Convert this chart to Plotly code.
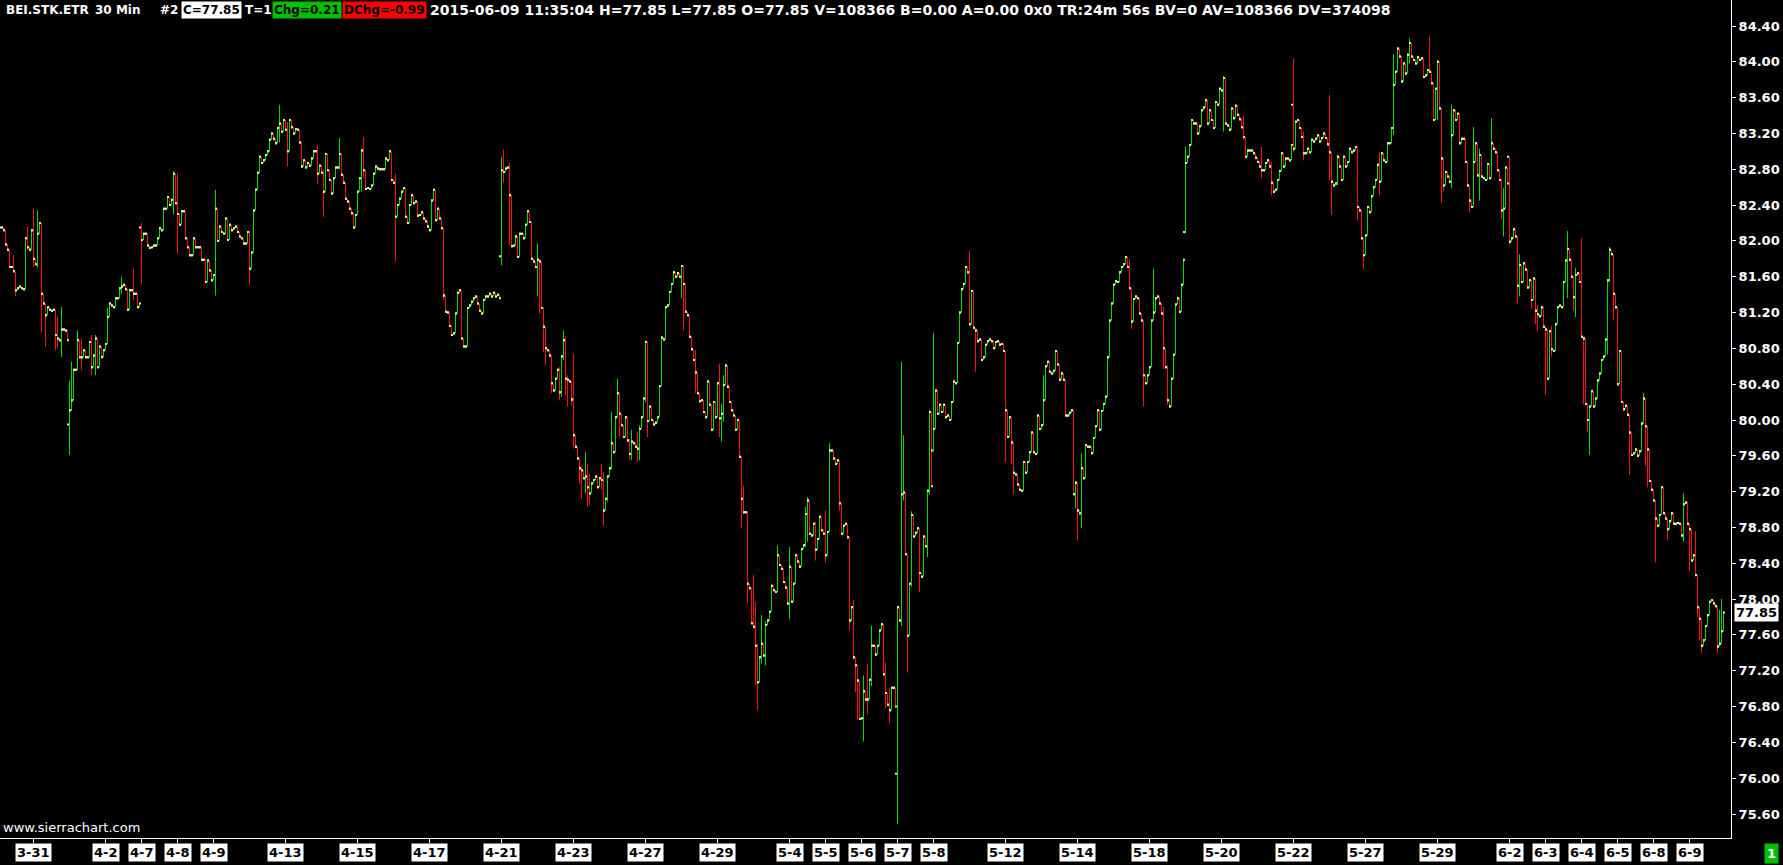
import plotly.graph_objects as go

# ---------------- data (30-min closes, BEI.STK.ETR) ----------------
# week of 3-30 (3-30 partial: 16 visible bars), 3-31, 4-1, 4-2
close_w14 = [82.15, 82.12, 81.96, 81.90, 81.71, 81.71, 81.66, 81.45, 81.47, 81.49, 81.47, 81.46, 82.03, 81.93, 81.90, 82.12,
             81.80, 81.74, 82.08, 82.20, 81.41, 81.30, 81.17, 81.26, 81.23, 81.22, 81.23, 80.95, 80.91, 80.89, 81.01, 81.01, 81.00, 80.89,
             80.11, 80.22, 80.56, 80.56, 80.89, 80.70, 80.70, 80.78, 80.70, 80.70, 80.87, 80.59, 80.72, 80.91, 80.59, 80.82, 80.70, 80.78,
             80.85, 81.15, 81.30, 81.28, 81.26, 81.36, 81.36, 81.47, 81.49, 81.51, 81.46, 81.23, 81.45, 81.45, 81.41, 81.41, 81.26, 81.30]
# 4-7 .. 4-10
close_w15 = [82.01, 82.08, 82.08, 81.95, 81.92, 81.93, 81.95, 81.95, 82.03, 82.14, 82.12, 82.36, 82.36, 82.49, 82.40, 82.46, 82.75, 82.42,
             82.30, 82.18, 82.33, 82.33, 82.03, 81.93, 81.84, 81.84, 82.03, 81.93, 81.93, 81.93, 81.79, 81.79, 81.54, 81.78, 81.67, 81.56,
             81.62, 82.36, 82.00, 82.16, 82.10, 82.08, 82.25, 82.01, 82.18, 82.12, 82.14, 82.16, 82.10, 82.05, 82.03, 81.97, 81.97, 82.10,
             81.69, 81.87, 82.34, 82.57, 82.76, 82.94, 82.87, 82.90, 82.96, 83.00, 83.13, 83.20, 83.14, 83.09, 83.26, 83.31, 83.22, 83.35]
# 4-13 .. 4-17
close_w16 = [83.24, 83.00, 83.35, 83.27, 83.20, 83.25, 83.24, 83.10, 82.83, 82.90, 82.82, 82.87, 82.84, 82.92, 83.00, 83.00, 82.75, 82.84,
             82.76, 82.55, 82.97, 82.79, 82.68, 82.53, 82.70, 82.82, 82.82, 82.97, 82.74, 82.65, 82.47, 82.44, 82.36, 82.31, 82.15, 82.29,
             82.55, 82.70, 83.01, 82.79, 82.58, 82.59, 82.58, 82.62, 82.75, 82.83, 82.81, 82.80, 82.80, 82.80, 82.92, 82.90, 83.00, 82.68,
             82.65, 82.27, 82.40, 82.47, 82.55, 82.59, 82.27, 82.20, 82.40, 82.51, 82.42, 82.44, 82.28, 82.29, 82.32, 82.25, 82.22, 82.16,
             82.12, 82.45, 82.57, 82.23, 82.36, 82.25, 82.14, 81.39, 81.21, 81.20, 81.05, 80.95, 80.97, 81.19, 81.42, 81.45, 80.91, 80.82]
# 4-20 .. 4-24
close_w17 = [80.82, 81.25, 81.28, 81.32, 81.36, 81.38, 81.30, 81.22, 81.19, 81.34, 81.38, 81.38, 81.41, 81.38, 81.42, 81.38, 81.40, 81.36,
             82.79, 82.77, 82.81, 82.82, 82.51, 81.94, 81.95, 82.05, 81.82, 82.08, 82.08, 82.03, 82.18, 82.33, 82.21, 81.80, 81.77, 81.71,
             81.79, 81.77, 81.25, 81.04, 80.80, 80.78, 80.72, 80.41, 80.33, 80.46, 80.56, 80.31, 80.71, 80.89, 80.46, 80.45, 80.43, 80.23,
             79.83, 79.70, 79.57, 79.46, 79.44, 79.35, 79.37, 79.25, 79.18, 79.29, 79.33, 79.37, 79.25, 79.35, 79.33, 78.99, 79.12, 79.37,
             79.46, 79.74, 79.64, 80.03, 80.30, 80.07, 79.94, 79.81, 80.03, 79.77, 79.62, 79.76, 79.74, 79.70, 79.68, 79.90, 80.03, 80.24]
# 4-27 .. 4-30
close_w18 = [80.87, 79.99, 80.15, 80.00, 79.95, 79.97, 80.03, 80.38, 80.92, 80.90, 81.26, 81.28, 81.43, 81.52, 81.65, 81.60, 81.64, 81.60,
             81.72, 81.52, 81.21, 81.17, 80.93, 80.79, 80.67, 80.53, 80.30, 80.21, 80.22, 80.09, 80.03, 80.43, 80.17, 79.89, 80.20, 80.03,
             80.41, 80.02, 80.07, 80.39, 80.61, 80.37, 80.20, 80.11, 80.05, 79.89, 80.00, 79.59, 79.12, 78.97, 78.97, 78.17, 78.12, 77.73,
             77.69, 77.48, 77.07, 77.35, 77.50, 77.37, 77.71, 77.76, 77.86, 78.15, 78.10, 78.08, 78.49, 78.38, 78.34, 78.19, 78.13, 77.95]
# 5-4 .. 5-8
close_w19 = [78.36, 77.97, 78.17, 78.49, 78.42, 78.36, 78.56, 78.60, 78.95, 79.10, 78.73, 78.71, 78.84, 78.55, 78.67, 78.92, 78.77, 78.73,
             78.49, 78.75, 79.66, 79.66, 79.57, 79.51, 79.55, 79.07, 78.73, 78.82, 78.84, 78.69, 77.76, 77.91, 77.35, 77.26, 77.09, 76.66,
             76.67, 76.97, 76.88, 76.88, 77.10, 77.48, 77.48, 77.38, 77.48, 77.65, 77.72, 77.16, 76.95, 76.82, 76.76, 77.01, 77.01, 76.80,
             77.91, 77.76, 79.17, 79.19, 78.50, 77.59, 78.17, 78.94, 78.70, 78.74, 78.79, 78.29, 78.25, 78.70, 78.59, 79.21, 80.09, 79.26,
             79.90, 80.33, 80.07, 80.17, 80.09, 80.17, 80.03, 80.05, 80.00, 80.20, 80.43, 80.41, 80.86, 81.20, 81.46, 81.52, 81.71, 81.65]
# 5-11 .. 5-15
close_w20 = [81.07, 81.44, 81.03, 81.00, 80.88, 80.90, 80.67, 80.70, 80.84, 80.88, 80.90, 80.88, 80.80, 80.87, 80.88, 80.84, 80.85, 80.77,
             80.11, 79.81, 80.03, 79.75, 79.41, 79.39, 79.28, 79.22, 79.21, 79.53, 79.41, 79.53, 79.64, 79.86, 79.64, 79.62, 80.05, 79.90,
             79.94, 80.22, 80.60, 80.65, 80.54, 80.52, 80.55, 80.77, 80.62, 80.45, 80.52, 80.45, 80.05, 80.05, 80.08, 80.11, 79.17, 79.30,
             78.99, 78.96, 79.46, 79.35, 79.72, 79.70, 79.70, 79.63, 79.80, 79.93, 80.11, 79.89, 80.10, 80.18, 80.26, 80.70, 81.11, 81.30,
             81.51, 81.55, 81.54, 81.65, 81.71, 81.74, 81.82, 81.71, 81.47, 81.10, 81.35, 81.38, 81.36, 81.19, 81.11, 80.50, 80.41, 80.50]
# 5-18 .. 5-22
close_w21 = [80.59, 81.11, 81.20, 81.36, 81.38, 81.30, 81.19, 80.80, 80.59, 80.22, 80.15, 80.46, 80.73, 81.29, 81.36, 81.21, 81.51, 81.79,
             82.87, 82.94, 83.07, 83.35, 83.31, 83.31, 83.20, 83.28, 83.46, 83.49, 83.57, 83.31, 83.46, 83.35, 83.26, 83.55, 83.52, 83.70,
             83.68, 83.82, 83.31, 83.29, 83.24, 83.48, 83.37, 83.51, 83.41, 83.36, 83.27, 83.16, 82.94, 83.01, 83.01, 83.01, 82.98, 82.93,
             82.88, 82.83, 82.79, 82.79, 82.87, 82.90, 82.83, 82.65, 82.55, 82.57, 82.68, 82.78, 82.98, 82.83, 82.92, 82.92, 82.90, 83.07,
             83.03, 83.33, 83.35, 83.26, 83.16, 82.98, 82.98, 83.03, 82.99, 83.13, 83.11, 83.14, 83.18, 83.11, 83.15, 83.20, 83.15, 83.08]
# 5-26 .. 5-29
close_w22 = [82.99, 82.66, 82.62, 82.64, 82.94, 82.83, 82.68, 82.94, 82.83, 82.88, 83.03, 82.99, 83.01, 83.05, 82.38, 82.34, 82.03, 81.84,
             82.06, 82.38, 82.32, 82.50, 82.60, 82.68, 82.85, 82.66, 82.98, 82.90, 82.88, 83.09, 83.09, 83.26, 83.74, 83.89, 84.15, 84.06,
             83.78, 83.98, 83.87, 84.08, 84.21, 84.06, 84.02, 83.98, 84.05, 84.02, 84.04, 83.83, 83.85, 83.91, 83.89, 83.76, 83.35, 83.70,
             84.00, 83.48, 82.92, 82.62, 82.77, 82.72, 82.66, 83.18, 83.46, 83.35, 83.42, 83.09, 83.14, 83.14, 82.88, 82.62, 82.45, 82.38]
# 6-1 .. 6-5
close_w23 = [82.88, 83.09, 82.73, 82.96, 82.72, 82.70, 82.68, 82.86, 82.70, 83.09, 83.03, 82.99, 82.79, 82.68, 82.34, 82.36, 82.82, 82.64,
             81.99, 82.03, 82.13, 82.05, 81.50, 81.73, 81.54, 81.75, 81.68, 81.48, 81.56, 81.34, 81.58, 81.22, 81.18, 81.16, 81.26, 81.04,
             81.01, 80.46, 80.99, 80.79, 80.77, 81.07, 81.26, 81.28, 81.26, 81.54, 81.78, 81.91, 81.79, 81.60, 81.37, 81.62, 81.64, 81.54,
             80.93, 80.91, 80.18, 80.00, 80.15, 80.32, 80.15, 80.24, 80.44, 80.52, 80.67, 80.71, 80.90, 81.56, 81.90, 81.85, 81.41, 81.26,
             80.40, 80.77, 80.20, 80.12, 80.16, 80.06, 79.86, 79.61, 79.63, 79.67, 79.60, 79.65, 79.96, 80.24, 79.93, 79.67, 79.32, 79.22]
# 6-8, 6-9
close_w24 = [79.10, 78.90, 78.82, 78.94, 79.25, 78.96, 78.90, 78.78, 78.87, 78.96, 78.84, 78.84, 78.85, 78.84, 78.71, 79.06, 79.08, 78.84,
             78.78, 78.43, 78.49, 78.27, 77.91, 77.78, 77.48, 77.54, 77.70, 77.82, 77.97, 77.99, 77.95, 77.92, 77.47, 77.50, 77.64, 77.85]

# bar index of first visible bar (3-31 first bar = 0), 18 bars per session
first_bar = -16
bars_per_day = 18

# bars whose high/low reach beyond their open/close: (bar, high, low)
wicks = [(-10, 81.84, 81.65), (-9, 81.62, 81.38), (-3, 82.16, 81.90), (0, 82.36, 81.71), (2, 82.34, 81.70),
         (4, 82.16, 80.98), (6, 81.30, 80.82), (11, 81.19, 80.78), (12, 81.15, 80.80), (14, 81.26, 80.70),
         (18, 80.44, 79.61), (19, 80.65, 80.10), (22, 81.00, 80.56), (24, 80.91, 80.56), (29, 80.95, 80.50),
         (31, 80.95, 80.50), (37, 81.25, 81.02), (44, 81.60, 81.41), (50, 81.69, 81.34), (54, 82.20, 81.52),
         (70, 82.78, 82.30), (72, 82.75, 81.86), (91, 82.57, 81.39), (108, 82.12, 81.51), (123, 83.52, 83.10),
         (127, 83.33, 82.83), (142, 83.07, 82.64), (145, 82.79, 82.27), (153, 83.15, 82.80), (164, 83.03, 82.55),
         (165, 83.16, 82.70), (181, 82.75, 81.77), (205, 82.14, 81.34), (234, 82.94, 81.73), (235, 83.02, 82.65),
         (238, 82.87, 81.95), (252, 81.97, 81.38), (253, 81.80, 81.19), (255, 81.11, 80.76), (256, 80.85, 80.61),
         (259, 80.59, 80.30), (263, 80.59, 80.22), (264, 80.71, 80.26), (265, 81.00, 80.67), (266, 80.93, 80.27),
         (267, 80.50, 80.15), (269, 80.44, 80.17), (270, 80.74, 79.68), (273, 79.51, 79.29), (274, 79.48, 79.12),
         (276, 79.64, 79.18), (277, 79.51, 79.03), (278, 79.40, 79.05), (284, 79.51, 79.22), (285, 79.42, 78.82),
         (287, 79.38, 79.09), (289, 80.09, 79.45), (292, 80.46, 80.11), (293, 80.30, 79.81), (298, 79.79, 79.55),
         (299, 79.89, 79.55), (302, 79.87, 79.53), (303, 79.94, 79.55), (306, 80.87, 80.20), (307, 80.85, 79.81),
         (324, 81.72, 81.36), (325, 81.67, 81.00), (331, 80.78, 80.30), (343, 80.63, 79.81), (344, 80.18, 79.76),
         (345, 80.50, 79.98), (354, 79.55, 78.79), (355, 79.27, 78.95), (357, 78.98, 77.96), (360, 78.27, 77.69),
         (361, 77.97, 77.04), (362, 77.50, 76.76), (364, 77.82, 77.28), (366, 77.75, 77.26), (372, 78.60, 78.25),
         (378, 78.58, 77.78), (386, 79.03, 78.58), (387, 79.14, 78.64), (391, 78.86, 78.43), (396, 78.99, 78.41),
         (398, 79.74, 78.88), (403, 79.55, 78.99), (408, 78.69, 77.65), (410, 77.99, 77.32), (411, 77.34, 76.96),
         (412, 77.22, 76.65), (415, 77.15, 76.41), (417, 77.27, 76.71), (419, 77.70, 77.03), (425, 77.72, 77.14),
         (426, 77.29, 76.78), (428, 77.01, 76.61), (432, 77.91, 75.49), (434, 80.65, 77.70), (435, 79.83, 79.10),
         (437, 78.50, 77.18), (439, 78.98, 78.14), (443, 78.79, 78.08), (447, 79.21, 78.47), (448, 80.11, 79.17),
         (450, 80.97, 79.65), (468, 81.89, 81.05), (471, 81.03, 80.54), (486, 80.35, 79.53), (489, 80.03, 79.51),
         (490, 79.49, 79.17), (505, 80.50, 80.03), (520, 80.11, 79.17), (521, 79.32, 79.02), (522, 79.10, 78.66),
         (524, 79.63, 78.79), (548, 81.80, 81.49), (549, 81.47, 81.02), (555, 81.11, 80.15), (560, 81.69, 81.34),
         (565, 81.26, 80.57), (567, 80.61, 80.17), (576, 83.05, 82.08), (587, 83.57, 83.29), (595, 83.84, 83.22),
         (605, 83.39, 83.13), (614, 83.05, 82.70), (619, 82.88, 82.51), (630, 84.04, 82.99), (635, 83.22, 82.90),
         (648, 83.63, 82.68), (649, 82.99, 82.29), (652, 82.96, 82.62), (662, 83.03, 82.23), (664, 82.33, 82.01),
         (665, 82.03, 81.69), (673, 82.99, 82.51), (680, 84.08, 83.18), (688, 84.26, 83.98), (698, 84.28, 83.88),
         (702, 84.02, 83.35), (704, 83.48, 82.42), (705, 82.83, 82.55), (709, 83.52, 82.59), (718, 82.47, 82.32),
         (720, 83.27, 82.38), (723, 83.03, 82.45), (729, 83.37, 83.01), (734, 82.70, 82.25), (735, 82.59, 82.05),
         (738, 82.94, 81.95), (742, 82.05, 81.30), (743, 81.85, 81.38), (749, 81.54, 81.24), (751, 81.50, 81.07),
         (752, 81.28, 80.99), (756, 81.04, 80.28), (759, 81.05, 80.71), (767, 82.11, 81.36), (770, 81.58, 81.22),
         (771, 81.70, 81.15), (774, 82.03, 80.93), (775, 80.93, 80.18), (777, 80.14, 79.87), (778, 80.15, 79.61),
         (787, 81.11, 80.73), (788, 81.93, 81.54), (790, 81.83, 81.11), (798, 80.06, 79.39), (805, 80.30, 79.96),
         (806, 80.08, 79.49), (807, 79.73, 79.25), (811, 78.90, 78.41), (817, 78.90, 78.66), (825, 79.18, 78.64),
         (828, 78.84, 78.31), (831, 78.76, 78.25), (832, 78.27, 77.80), (833, 77.84, 77.54), (834, 77.78, 77.40),
         (842, 77.92, 77.40), (843, 77.88, 77.52), (844, 78.00, 77.64)]
# session opens that gap away from the prior close: (bar, open)
gap_opens = [(18, 79.95), (54, 82.15), (234, 81.83), (432, 76.05), (450, 79.66), (576, 82.10), (630, 83.52), (738, 82.94)]

# session labels on the time axis (day number counted from 3-31)
label_text = ["3-31", "4-2", "4-7", "4-8", "4-9", "4-13", "4-15", "4-17", "4-21", "4-23", "4-27", "4-29",
              "5-4", "5-5", "5-6", "5-7", "5-8", "5-12", "5-14", "5-18", "5-20", "5-22", "5-27", "5-29",
              "6-2", "6-3", "6-4", "6-5", "6-8", "6-9"]
label_day = [0, 2, 3, 4, 5, 7, 9, 11, 13, 15, 17, 19, 21, 22, 23, 24, 25, 27, 29, 31, 33, 35, 37, 39,
             41, 42, 43, 44, 45, 46]

price_ticks = [75.60, 76.00, 76.40, 76.80, 77.20, 77.60, 78.00, 78.40, 78.80, 79.20, 79.60, 80.00, 80.40,
               80.80, 81.20, 81.60, 82.00, 82.40, 82.80, 83.20, 83.60, 84.00, 84.40]
last_price = 77.85

# ---------------- build OHLC ----------------
closes = (close_w14 + close_w15 + close_w16 + close_w17 + close_w18 + close_w19 + close_w20 +
          close_w21 + close_w22 + close_w23 + close_w24)
idx = list(range(first_bar, first_bar + len(closes)))
opens = [closes[0]] + closes[:-1]
gmap = dict(gap_opens)
for k, g in enumerate(idx):
    if g in gmap:
        opens[k] = gmap[g]
highs = [max(o, c) for o, c in zip(opens, closes)]
lows = [min(o, c) for o, c in zip(opens, closes)]
pos = {g: k for k, g in enumerate(idx)}
for g, h, l in wicks:
    k = pos[g]
    highs[k] = max(highs[k], h)
    lows[k] = min(lows[k], l)

W, H = 1783, 865
PL, PR, PT, PB = 0, 52, 0, 27
plot_w = W - PL - PR  # 1731
px_per_bar = 2.0
x0 = -33.5 / px_per_bar
x1 = x0 + plot_w / px_per_bar
px_per_unit = (814 - 26) / (84.40 - 75.60)
y_top = 84.40 + 26 / px_per_unit
y_bot = y_top - (H - PT - PB) / px_per_unit

GREEN = "#00dd00"
RED = "#ff1010"
TICK = "#d2f7a0"

fig = go.Figure()
fig.add_trace(go.Ohlc(
    x=idx, open=opens, high=highs, low=lows, close=closes,
    increasing=dict(line=dict(color=GREEN, width=1)),
    decreasing=dict(line=dict(color=RED, width=1)),
    tickwidth=0, hoverinfo="skip", showlegend=False))
fig.add_trace(go.Scatter(
    x=[g - 0.75 for g in idx], y=opens, mode="markers",
    marker=dict(symbol="square", size=2, color=TICK, line=dict(width=0)),
    hoverinfo="skip", showlegend=False))
fig.add_trace(go.Scatter(
    x=[g + 0.25 for g in idx], y=closes, mode="markers",
    marker=dict(symbol="square", size=2, color=TICK, line=dict(width=0)),
    hoverinfo="skip", showlegend=False))

annotations = []
# date labels
for t, d in zip(label_text, label_day):
    annotations.append(dict(
        x=d * bars_per_day, xref="x", y=0, yref="paper", yanchor="top", xanchor="center",
        yshift=-5, text=t, showarrow=False, bgcolor="white", borderpad=1,
        font=dict(family="DejaVu Sans", size=13, color="black", weight="bold")))

# last price box
annotations.append(dict(
    x=1, xref="paper", y=last_price, yref="y", xanchor="left", yanchor="middle", xshift=3,
    text=f"{last_price:.2f}", showarrow=False, bgcolor="white", borderpad=1,
    font=dict(family="DejaVu Sans", size=13, color="black", weight="bold")))

# header pieces: (x px, text, background, text colour, size)
header = [(4, "BEI.STK.ETR", None, "white", 12), (93, "30 Min", None, "white", 12), (158, "#2", None, "white", 12),
          (181, "C=77.85", "white", "black", 12), (243, "T=1", None, "white", 12),
          (272, "Chg=0.21", "#00c000", "black", 12), (342, "DChg=-0.99", "#ff0000", "black", 12),
          (428, "2015-06-09 11:35:04 H=77.85 L=77.85 O=77.85 V=108366 B=0.00 A=0.00 0x0 TR:24m 56s BV=0 AV=108366 DV=374098",
           None, "white", 14)]
for xpx, t, bg, fc, fs in header:
    a = dict(x=xpx / plot_w, xref="paper", y=1, yref="paper", xanchor="left", yanchor="top",
             yshift=-1 if fs == 12 else 0, text=t, showarrow=False, borderpad=1,
             font=dict(family="DejaVu Sans", size=fs, color=fc, weight="bold"))
    if bg:
        a["bgcolor"] = bg
    annotations.append(a)

annotations.append(dict(x=1 / plot_w, xref="paper", y=0, yref="paper", xanchor="left", yanchor="bottom",
                        yshift=1, text="www.sierrachart.com", showarrow=False,
                        font=dict(family="DejaVu Sans", size=13, color="white")))
annotations.append(dict(x=1764 / plot_w, xref="paper", y=0, yref="paper", xanchor="left", yanchor="top",
                        yshift=-5, text="1", showarrow=False, bgcolor="#00c000", borderpad=2,
                        font=dict(family="DejaVu Sans", size=13, color="white", weight="bold")))

fig.update_layout(
    width=W, height=H, margin=dict(l=PL, r=PR, t=PT, b=PB),
    paper_bgcolor="black", plot_bgcolor="black",
    showlegend=False, annotations=annotations,
    xaxis=dict(range=[x0, x1], showgrid=False, zeroline=False, showline=True, linecolor="white",
               linewidth=1, ticks="outside", ticklen=4, tickcolor="white",
               tickvals=[d * bars_per_day for d in label_day], showticklabels=False,
               rangeslider=dict(visible=False), fixedrange=True),
    yaxis=dict(range=[y_bot, y_top], side="right", showgrid=False, zeroline=False, showline=True,
               linecolor="white", linewidth=1, ticks="outside", ticklen=4, tickcolor="white",
               tickvals=price_ticks, ticktext=[f"{v:.2f}" for v in price_ticks],
               tickfont=dict(family="DejaVu Sans", size=13, color="white", weight="bold"),
               fixedrange=True),
)

fig.write_html("out.html", config={"displayModeBar": False},
               post_script="document.body.style.margin='0px';document.body.style.background='black';")
